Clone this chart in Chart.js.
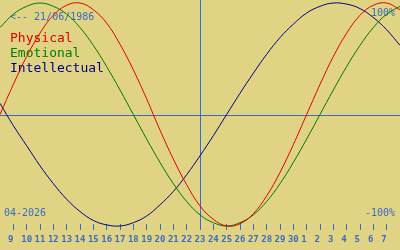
<!DOCTYPE html>
<html>
<head>
<meta charset="utf-8">
<script src="https://cdn.jsdelivr.net/npm/chart.js@4"></script>
<style>
  html, body { margin: 0; padding: 0; background: #e0d484; }
  #wrap { width: 400px; height: 250px; position: relative; }
</style>
</head>
<body>
<div id="wrap"><canvas id="bioChart" width="400" height="250"></canvas></div>
<script>
/* ---------- DATA ---------- */

// days from 8 April to 8 May 2026, today = 23 April (index 15)
const dayLabels = ["8", "9", "10", "11", "12", "13", "14", "15", "16", "17", "18", "19", "20", "21", "22",
    "23", "24", "25", "26", "27", "28", "29", "30", "1", "2", "3", "4", "5", "6", "7", "8"];

const physical = [0, 0.27, 0.52, 0.73, 0.89, 0.98, 1.0, 0.94, 0.82, 0.63, 0.40, 0.14, -0.14, -0.40, -0.63,
    -0.82, -0.94, -1.0, -0.98, -0.89, -0.73, -0.52, -0.27, 0, 0.27, 0.52, 0.73, 0.89, 0.98, 1.0, 0.94];

const emotional = [0.78, 0.90, 0.97, 1.0, 0.97, 0.90, 0.78, 0.62, 0.43, 0.22, 0, -0.22, -0.43, -0.62, -0.78,
    -0.90, -0.97, -1.0, -0.97, -0.90, -0.78, -0.62, -0.43, -0.22, 0, 0.22, 0.43, 0.62, 0.78, 0.90, 0.97];

const intellectual = [0.10, -0.10, -0.28, -0.46, -0.62, -0.76, -0.87, -0.95, -0.99, -1.0, -0.97, -0.91, -0.81, -0.69, -0.54,
    -0.37, -0.19, 0, 0.19, 0.37, 0.54, 0.69, 0.81, 0.91, 0.97, 1.0, 0.99, 0.95, 0.87, 0.76, 0.62];

const todayIndex = 15;
const birthText = "<-- 21/06/1986";
const monthText = "04-2026";

/* ---------- STYLE ---------- */

const BLUE = "#3a6cc0";
const MONO = "'DejaVu Sans Mono', monospace";

const overlay = {
    id: "overlay",
    beforeDatasetsDraw(chart) {
        const { ctx, chartArea, scales } = chart;
        ctx.save();

        // zero line and today line
        ctx.strokeStyle = BLUE;
        ctx.lineWidth = 1;
        const y0 = Math.round(scales.y.getPixelForValue(0)) + 0.5;
        ctx.beginPath();
        ctx.moveTo(chartArea.left, y0);
        ctx.lineTo(chartArea.right, y0);
        const xt = Math.round(scales.x.getPixelForValue(todayIndex)) + 0.5;
        ctx.moveTo(xt, chartArea.top);
        ctx.lineTo(xt, chartArea.bottom + 6);
        ctx.stroke();

        // texts
        ctx.textBaseline = "alphabetic";
        ctx.font = "10px " + MONO;
        ctx.fillStyle = BLUE;
        ctx.textAlign = "left";
        ctx.fillText(birthText, 10, 20);
        ctx.fillText(monthText, 4, 216);
        ctx.textAlign = "right";
        ctx.fillText("100%", 395, 16);
        ctx.fillText("-100%", 395, 216);

        ctx.textAlign = "left";
        ctx.font = "13px " + MONO;
        ctx.fillStyle = "#e00000";
        ctx.fillText("Physical", 10, 42);
        ctx.fillStyle = "#008000";
        ctx.fillText("Emotional", 10, 57);
        ctx.fillStyle = "#000080";
        ctx.fillText("Intellectual", 10, 72);

        ctx.restore();
    }
};

/* ---------- CHART ---------- */

new Chart(document.getElementById("bioChart"), {
    type: "line",
    data: {
        labels: dayLabels,
        datasets: [
            { label: "Physical", data: physical, borderColor: "#e00000" },
            { label: "Emotional", data: emotional, borderColor: "#007800" },
            { label: "Intellectual", data: intellectual, borderColor: "#000080" }
        ]
    },
    options: {
        responsive: false,
        animation: false,
        events: [],
        layout: { padding: 0 },
        datasets: {
            line: { borderWidth: 1, pointRadius: 0, tension: 0.4, clip: false }
        },
        plugins: {
            legend: { display: false },
            tooltip: { enabled: false }
        },
        scales: {
            x: {
                type: "category",
                offset: false,
                afterBuildTicks: scale => {
                    scale.ticks = scale.ticks.filter(t => t.value > 0 && t.value < dayLabels.length - 1);
                },
                afterFit: scale => { scale.height = 26; },
                ticks: {
                    autoSkip: false,
                    maxRotation: 0,
                    padding: 4,
                    color: BLUE,
                    font: { family: MONO, size: 9, weight: "bold" },
                    callback: function (value) {
                        return this.getLabelForValue(value).padEnd(2);
                    }
                },
                grid: { drawOnChartArea: false, tickLength: 6, tickColor: BLUE },
                border: { display: false }
            },
            y: {
                display: false,
                min: -0.982,
                max: 1.027
            }
        }
    },
    plugins: [overlay]
});
</script>
</body>
</html>
